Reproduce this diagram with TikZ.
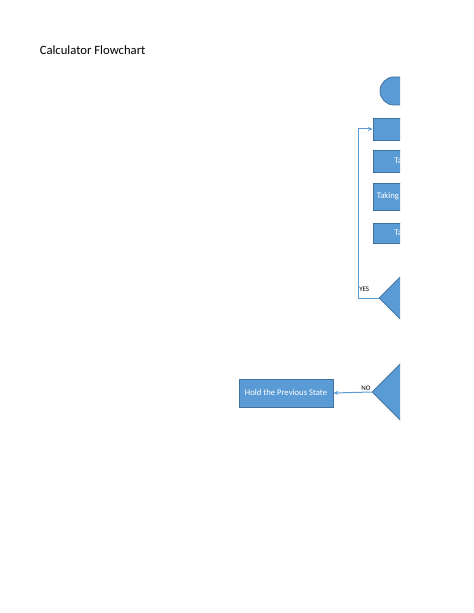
\documentclass[tikz,border=0pt]{standalone}
\usepackage{fontspec}
\setmainfont{Carlito}
\usetikzlibrary{shapes.geometric,arrows.meta}
\definecolor{boxfill}{HTML}{5B9BD5}
\definecolor{boxline}{HTML}{41719C}
\definecolor{connline}{HTML}{5B9BD5}
\tikzset{
  blk/.style={draw=boxline, fill=boxfill, line width=0.6pt, inner sep=0pt},
  procbox/.style={blk, rectangle},
  terminal/.style={blk, rectangle, rounded corners=10.5pt},
  decision/.style={blk, diamond, aspect=1},
  boxtext/.style={text=white, font=\fontsize{6.5pt}{7.5pt}\selectfont, inner sep=0pt},
  lbl/.style={text=black, font=\fontsize{5.2pt}{6pt}\selectfont, inner sep=0pt},
  conn/.style={draw=connline, line width=0.75pt},
  arr/.style={-{Stealth[length=3.5pt,width=3pt]}}
}
\begin{document}
\begin{tikzpicture}[x=0.75pt,y=-0.75pt]
\useasboundingbox (0,0) rectangle (474,613);
\node[anchor=west, inner sep=0pt, font=\fontsize{9.5pt}{11pt}\selectfont] (title) at (39.5,50) {Calculator Flowchart};
\begin{scope}
\clip (0,0) rectangle (400,613);
\node[terminal, minimum width=45pt, minimum height=21pt] (start) at (410,91) {};
\node[procbox, minimum width=52.5pt, minimum height=16.5pt] (b1) at (408,129) {};
\node[procbox, minimum width=52.5pt, minimum height=16.5pt] (b2) at (408,161) {};
\node[procbox, minimum width=52.5pt, minimum height=20.25pt] (b3) at (408,196.5) {};
\node[procbox, minimum width=52.5pt, minimum height=15pt] (b4) at (408,233) {};
\node[boxtext, anchor=west] (t2) at (394,161) {Ta};
\node[boxtext, anchor=west] (t3) at (376.5,196.5) {Taking};
\node[boxtext, anchor=west] (t4) at (394,233) {Ta};
\node[decision, minimum width=76.5pt, minimum height=76.5pt] (d1) at (430,298) {};
\node[decision, minimum width=79.5pt, minimum height=79.5pt] (d2) at (425,392) {};
\coordinate (loop) at (358.5,298);
\draw[conn, arr] (d1.west) -- (loop) |- (b1.west);
\end{scope}
\node[procbox, minimum width=70.5pt, minimum height=21pt] (hold) at (286,393) {};
\node[boxtext] (holdtext) at (286,393) {Hold the Previous State};
\draw[conn, arr] (d2.west) -- (hold.east);
\node[lbl, anchor=west] (yes) at (359,289.5) {YES};
\node[lbl, anchor=west] (no) at (361,388.5) {NO};
\end{tikzpicture}
\end{document}
